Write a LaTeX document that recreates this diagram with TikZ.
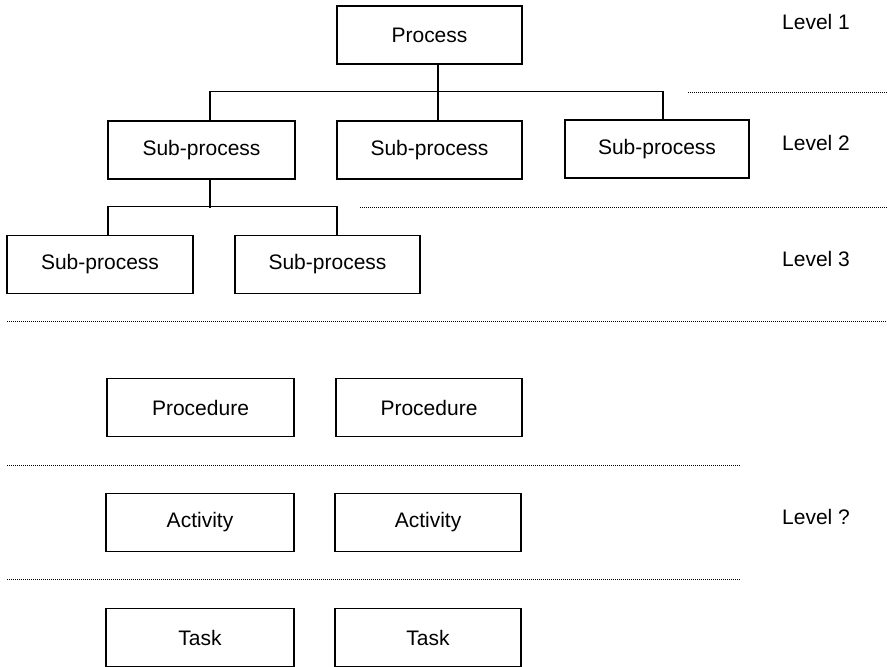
\documentclass[tikz,border=0pt]{standalone}
\usepackage{fontspec}
\setmainfont{Liberation Sans}
\begin{document}
\begin{tikzpicture}[x=1pt,y=-1pt,
  every node/.style={font=\fontsize{21}{25}\selectfont},
  box/.style={draw, line width=1.6pt, minimum width=#1, minimum height=58pt,
    inner sep=0pt, anchor=center},
  box/.default=186pt,
  link/.style={line width=1.3pt},
  sep/.style={line width=1pt, dash pattern=on 1pt off 1pt},
  lvl/.style={anchor=center}]
\useasboundingbox (0,0) rectangle (887,667);

% Level 1
\node[box=185pt] (P) at (429.5,35) {Process};
% Level 2
\node[box=187pt] (S1) at (201.5,150) {Sub-process};
\node[box=185pt] (S2) at (429.5,150) {Sub-process};
\node[box=184pt] (S3) at (657,149) {Sub-process};
% Level 3
\node[box=186pt] (T1) at (100,264.5) {Sub-process};
\node[box=185pt] (T2) at (327.5,264.5) {Sub-process};
% Lower layers
\node[box=187pt] (R1) at (200.5,407.5) {Procedure};
\node[box=186pt] (R2) at (429,407.5) {Procedure};
\node[box=188pt] (A1) at (200,522.5) {Activity};
\node[box=186pt] (A2) at (428,522.5) {Activity};
\node[box=188pt] (K1) at (200,637.5) {Task};
\node[box=186pt] (K2) at (428,637.5) {Task};

% Tree connectors
\draw[link] ([xshift=8.5pt]P.south) -- ([xshift=8.5pt]S2.north);
\draw[link] ([xshift=8.5pt]S1.north) -- ++(0,-29) -| ([xshift=6pt]S3.north);
\draw[link] ([xshift=8.5pt]S1.south) -- ++(0,28.5);
\draw[link] ([xshift=8pt]T1.north) -- ++(0,-28) -| ([xshift=9.5pt]T2.north);

% Level separators
\draw[sep] (688,92) -- (887,92);
\draw[sep] (360,207) -- (887,207);
\draw[sep] (7,321) -- (887,321);
\draw[sep] (7,465) -- (740,465);
\draw[sep] (7,579) -- (740,579);

% Level labels
\node[lvl] (L1) at (816,22) {Level 1};
\node[lvl] (L2) at (816,143) {Level 2};
\node[lvl] (L3) at (816,259) {Level 3};
\node[lvl] (L4) at (816,517) {Level ?};
\end{tikzpicture}
\end{document}
